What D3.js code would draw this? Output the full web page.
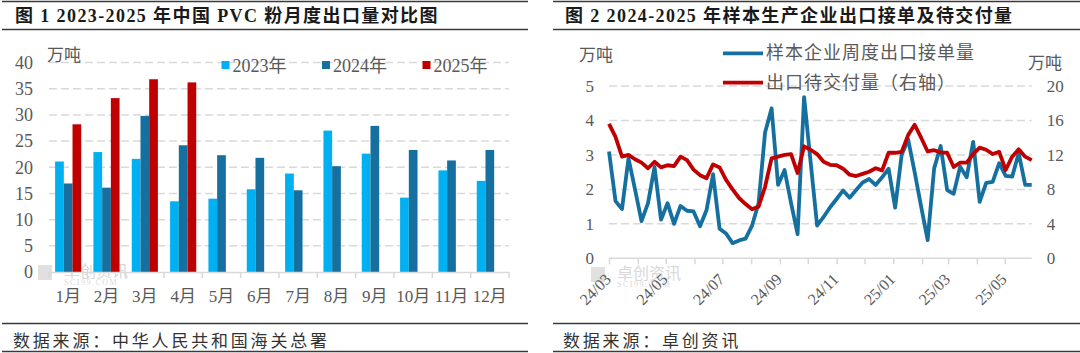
<!DOCTYPE html>
<html>
  <head>
    <title></title>
    <meta charset="UTF-8" />
    <script src="https://cdn.jsdelivr.net/npm/d3@7"></script>
    <style>
      body { margin: 0; background: #fff; }
      svg { display: block; }
    </style>
  </head>
  <body>
    <svg></svg>
    <script>
      // 1. 数据
      const months = ['1月', '2月', '3月', '4月', '5月', '6月', '7月', '8月', '9月', '10月', '11月', '12月'];
      const years = ['2023年', '2024年', '2025年'];
      const export2023 = [21.1, 22.9, 21.6, 13.5, 14.0, 15.8, 18.8, 27.0, 22.6, 14.2, 19.4, 17.4];
      const export2024 = [16.9, 16.1, 29.8, 24.2, 22.3, 21.8, 15.6, 20.2, 27.9, 23.3, 21.3, 23.3];
      const export2025 = [28.2, 33.2, 36.8, 36.2];
      const barTicks = [0, 5, 10, 15, 20, 25, 30, 35, 40];

      const weekStart = new Date(2024, 2, 1);
      const orders = [
        3.1, 1.66, 1.43, 2.9, 2.0, 1.08, 1.6, 2.65, 1.12, 1.6,
        1.0, 1.52, 1.38, 1.36, 0.93, 1.4, 2.44, 0.86, 0.72, 0.44,
        0.52, 0.57, 0.95, 1.6, 3.65, 4.35, 2.13, 2.56, 1.6, 0.7,
        4.68, 2.8, 0.95, 1.2, 1.48, 1.72, 1.97, 1.76, 1.98, 2.2,
        2.3, 2.13, 2.35, 2.6, 1.47, 3.0, 3.45, 2.5, 1.5, 0.53,
        2.61, 3.26, 1.98, 1.87, 2.66, 2.35, 3.38, 1.64, 2.19, 2.22,
        2.76, 2.39, 2.37, 3.05, 2.13, 2.13
      ];
      const pending = [
        15.6, 14.1, 11.8, 12.0, 11.5, 11.1, 10.45, 11.2, 10.55, 10.8,
        10.7, 11.8, 11.4, 10.3, 9.65, 9.3, 10.9, 10.55, 9.1, 8.0,
        7.0, 6.3, 5.7, 6.0, 8.3, 11.6, 11.8, 12.0, 12.1, 9.9,
        13.0, 12.6, 12.1, 11.2, 10.85, 10.8, 10.4, 9.7, 9.55, 9.8,
        10.05, 10.45, 10.2, 12.25, 12.25, 12.35, 14.3, 15.5, 14.0, 12.4,
        12.55, 12.3, 12.25, 10.6, 11.1, 11.1, 12.1, 12.85, 12.6, 12.1,
        12.35, 10.25, 11.8, 12.65, 11.8, 11.4
      ];
      const leftTicks = [0, 1, 2, 3, 4, 5];
      const rightTicks = [0, 4, 8, 12, 16, 20];
      const lineNames = ['样本企业周度出口接单量', '出口待交付量（右轴）'];

      // 2. 基本设置
      const width = 1080;
      const height = 353;
      const font = "'Liberation Serif', 'Noto Sans CJK SC', serif";
      const textColor = '#595959';
      const gridColor = '#d9d9d9';
      const barColors = ['#00B0F0', '#1570A0', '#C00000'];
      const blue = '#1570A0';
      const red = '#C00000';

      const svg = d3
        .select('svg')
        .attr('width', width)
        .attr('height', height)
        .style('font-family', font);

      svg.append('rect').attr('width', width).attr('height', height).attr('fill', '#fff');

      // 3. 标题 & 来源
      const panels = [
        { x0: 2, x1: 528, tx: 15, title: '图 1 2023-2025 年中国 PVC 粉月度出口量对比图', source: '数据来源：中华人民共和国海关总署' },
        { x0: 553, x1: 1080, tx: 565, title: '图 2 2024-2025 年样本生产企业出口接单及待交付量', source: '数据来源：卓创资讯' }
      ];
      panels.forEach((p) => {
        [1.5, 29.5, 323.5, 351.5].forEach((y) => {
          svg.append('line')
            .attr('x1', p.x0).attr('x2', p.x1)
            .attr('y1', y).attr('y2', y)
            .attr('stroke', '#3a3a3a')
            .attr('stroke-width', 1.3);
        });
        svg.append('text')
          .attr('x', p.tx).attr('y', 22)
          .attr('font-size', 18)
          .attr('font-weight', 'bold')
          .attr('letter-spacing', 1.4)
          .attr('fill', '#1a1a1a')
          .text(p.title);
        svg.append('text')
          .attr('x', p.tx - 2).attr('y', 347)
          .attr('font-size', 17)
          .attr('letter-spacing', 2.8)
          .attr('fill', '#333')
          .text(p.source);
      });

      // 水印 (卓创资讯 logo)
      function watermark(x, y) {
        const g = svg.append('g').attr('transform', `translate(${x},${y})`).attr('opacity', 0.45);
        g.append('rect').attr('width', 14).attr('height', 15).attr('fill', '#bbb');
        g.append('text').attr('x', 26).attr('y', 12).attr('font-size', 16).attr('fill', '#aaa').text('卓创资讯');
        g.append('text').attr('x', 26).attr('y', 20).attr('font-size', 8).attr('letter-spacing', 1.5).attr('fill', '#aaa').text('SCI99.COM');
      }
      watermark(38, 265);
      watermark(591, 267);

      // 4. 图1 柱状图
      const x0 = d3.scaleBand().domain(months).range([49, 509]);
      const x1 = d3.scaleBand().domain(years).range([0, x0.bandwidth()]).paddingOuter(0.7);
      const y1 = d3.scaleLinear().domain([0, 40]).range([272, 62.5]);
      const series = [export2023, export2024, export2025];

      svg.append('g')
        .selectAll('line')
        .data(barTicks.slice(1))
        .join('line')
        .attr('x1', 49).attr('x2', 509)
        .attr('y1', (d) => y1(d)).attr('y2', (d) => y1(d))
        .attr('stroke', gridColor)
        .attr('stroke-width', 1.5)
        .attr('stroke-dasharray', '8,4');

      svg.append('g')
        .call(d3.axisLeft(y1).tickValues(barTicks).tickSize(0).tickPadding(16))
        .attr('transform', 'translate(49,0)')
        .call((g) => g.select('.domain').remove())
        .selectAll('text')
        .attr('font-size', 18)
        .attr('font-family', font)
        .attr('fill', textColor);

      const bars = svg.append('g');
      series.forEach((vals, si) => {
        bars.append('g')
          .attr('fill', barColors[si])
          .selectAll('rect')
          .data(vals)
          .join('rect')
          .attr('x', (d, i) => x0(months[i]) + x1(years[si]))
          .attr('width', x1.bandwidth())
          .attr('y', (d) => y1(d))
          .attr('height', (d) => y1(0) - y1(d));
      });

      const xAxis1 = svg.append('g')
        .attr('transform', `translate(0,${y1(0)})`)
        .call(d3.axisBottom(x0).tickSize(0).tickPadding(18));
      xAxis1.select('.domain').attr('stroke', gridColor).attr('stroke-width', 1.5);
      xAxis1.selectAll('text').attr('font-size', 17).attr('font-family', font).attr('fill', textColor);
      svg.append('g')
        .selectAll('line')
        .data(months.map((m) => x0(m)).concat([x0.range()[1]]))
        .join('line')
        .attr('x1', (d) => d).attr('x2', (d) => d)
        .attr('y1', y1(0)).attr('y2', y1(0) + 6)
        .attr('stroke', gridColor)
        .attr('stroke-width', 1.5);

      svg.append('text').attr('x', 47).attr('y', 61).attr('font-size', 17).attr('fill', textColor).text('万吨');

      const legend1 = svg.append('g')
        .selectAll('g')
        .data(years)
        .join('g')
        .attr('transform', (d, i) => `translate(${221.5 + i * 100.5},61)`);
      legend1.append('rect').attr('width', 8).attr('height', 8).attr('fill', (d, i) => barColors[i]);
      legend1.append('text').attr('x', 11).attr('y', 11).attr('font-size', 18).attr('fill', textColor).text((d) => d);

      // 5. 图2 折线图
      const dates = orders.map((d, i) => d3.timeDay.offset(weekStart, i * 7));
      const x2 = d3.scaleTime().domain([dates[0], dates[dates.length - 1]]).range([609, 1031.7]);
      const yL = d3.scaleLinear().domain([0, 5]).range([258.3, 86]);
      const yR = d3.scaleLinear().domain([0, 20]).range([258.3, 86]);

      svg.append('g')
        .selectAll('line')
        .data(leftTicks.slice(1))
        .join('line')
        .attr('x1', 609).attr('x2', 1031.7)
        .attr('y1', (d) => yL(d)).attr('y2', (d) => yL(d))
        .attr('stroke', gridColor)
        .attr('stroke-width', 1.5)
        .attr('stroke-dasharray', '8,4');

      svg.append('g')
        .attr('transform', 'translate(609,0)')
        .call(d3.axisLeft(yL).tickValues(leftTicks).tickFormat(d3.format('d')).tickSize(0).tickPadding(15))
        .call((g) => g.select('.domain').remove())
        .selectAll('text')
        .attr('font-size', 17).attr('font-family', font).attr('fill', textColor);

      svg.append('g')
        .attr('transform', 'translate(1031.7,0)')
        .call(d3.axisRight(yR).tickValues(rightTicks).tickFormat(d3.format('d')).tickSize(0).tickPadding(15))
        .call((g) => g.select('.domain').remove())
        .selectAll('text')
        .attr('font-size', 17).attr('font-family', font).attr('fill', textColor);

      const monthTicks = d3.timeMonth.range(dates[0], dates[dates.length - 1]);
      const xAxis2 = svg.append('g')
        .attr('transform', `translate(0,${yL(0)})`)
        .call(d3.axisBottom(x2).tickValues(monthTicks).tickSize(6).tickFormat(''));
      xAxis2.selectAll('line, path').attr('stroke', gridColor).attr('stroke-width', 1.5);
      xAxis2.select('.domain').attr('d', `M609,0H1031.7`);

      svg.append('g')
        .selectAll('text')
        .data(monthTicks.filter((d, i) => i % 2 === 0))
        .join('text')
        .attr('transform', (d) => `translate(${x2(d) + 3},${yL(0) + 22}) rotate(-45)`)
        .attr('text-anchor', 'end')
        .attr('font-size', 16)
        .attr('fill', textColor)
        .text(d3.timeFormat('%y/%m'));

      const line = d3.line()
        .x((d, i) => x2(dates[i]));
      svg.append('path')
        .attr('d', line.y((d) => yL(d))(orders))
        .attr('fill', 'none')
        .attr('stroke', blue)
        .attr('stroke-width', 3.8)
        .attr('stroke-linejoin', 'round');
      svg.append('path')
        .attr('d', line.y((d) => yR(d))(pending))
        .attr('fill', 'none')
        .attr('stroke', red)
        .attr('stroke-width', 3.8)
        .attr('stroke-linejoin', 'round');

      svg.append('text').attr('x', 579).attr('y', 61).attr('font-size', 17).attr('fill', textColor).text('万吨');
      svg.append('text').attr('x', 1028).attr('y', 69).attr('font-size', 17).attr('fill', textColor).text('万吨');

      const legend2 = svg.append('g')
        .selectAll('g')
        .data(lineNames)
        .join('g')
        .attr('transform', (d, i) => `translate(723,${53.3 + i * 29.4})`);
      legend2.append('line')
        .attr('x2', 40)
        .attr('stroke', (d, i) => [blue, red][i])
        .attr('stroke-width', 3.8);
      legend2.append('text')
        .attr('x', 43).attr('y', 6)
        .attr('font-size', 18)
        .attr('letter-spacing', 1)
        .attr('fill', textColor)
        .text((d) => d);
    </script>
  </body>
</html>
